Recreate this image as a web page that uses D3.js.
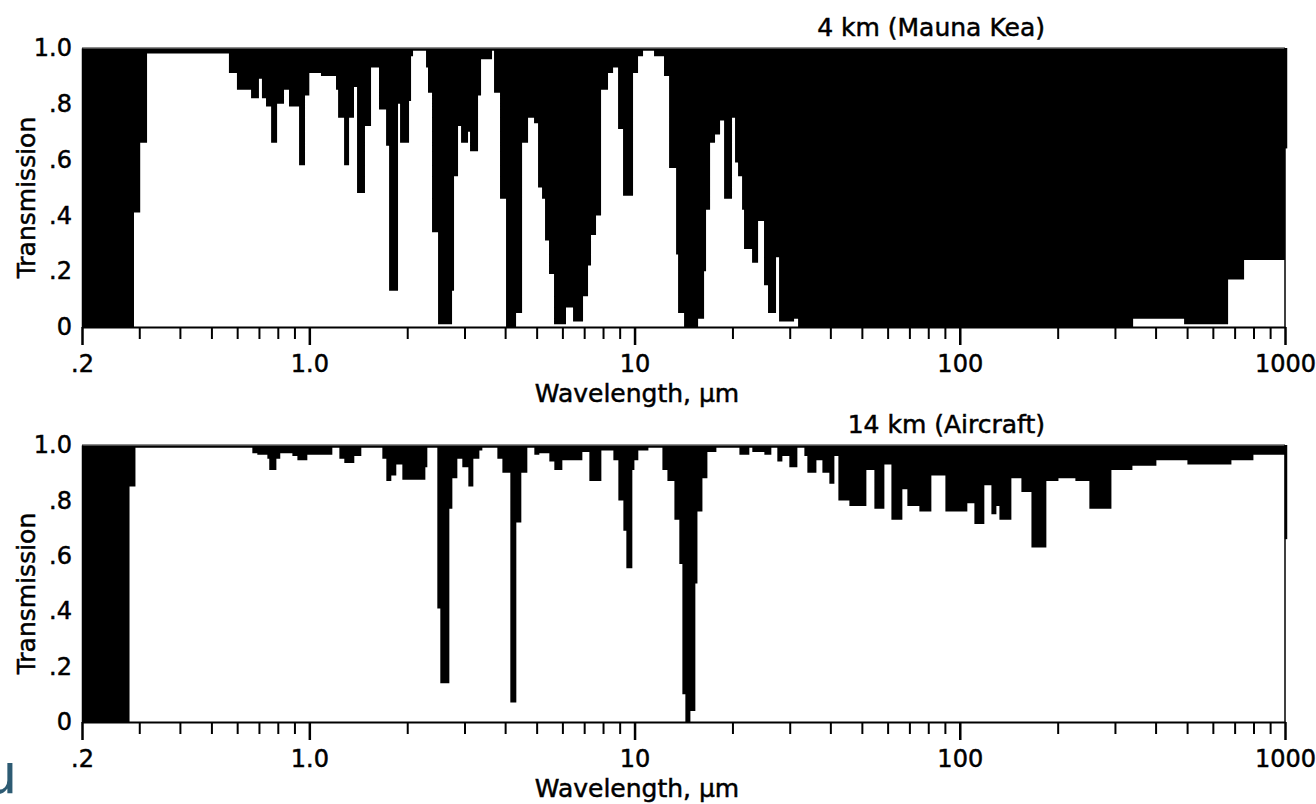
<!DOCTYPE html>
<html>
<head>
<meta charset="utf-8">
<script src="https://cdn.jsdelivr.net/npm/d3@7"></script>
<style>
  body { margin: 0; background: #fff; }
  text { font-family: "DejaVu Sans", sans-serif; fill: #000; stroke: #000; stroke-width: 0.5px; }
</style>
</head>
<body>
<svg width="1316" height="804"></svg>
<script>
// [wavelength in µm where the step starts, transmission]
var mkBands = [
  [0.2, 0], [0.289, 0.41], [0.302, 0.66], [0.317, 0.98], [0.566, 0.91], [0.599, 0.85],
  [0.662, 0.82], [0.700, 0.89], [0.715, 0.82], [0.736, 0.79], [0.763, 0.66], [0.796, 0.80],
  [0.836, 0.85], [0.866, 0.79], [0.930, 0.58], [0.970, 0.83], [1.0, 0.91], [1.086, 0.90],
  [1.208, 0.85], [1.226, 0.75], [1.279, 0.58], [1.325, 0.75], [1.372, 0.86], [1.402, 0.48],
  [1.483, 0.72], [1.548, 0.93], [1.638, 0.78], [1.722, 0.65], [1.759, 0.13], [1.874, 0.80],
  [1.901, 0.66], [2.026, 0.81], [2.055, 0.97], [2.084, 0.99], [2.285, 0.93], [2.317, 0.84],
  [2.384, 0.34], [2.488, 0.01], [2.747, 0.13], [2.786, 0.54], [2.866, 0.72], [2.928, 0.66],
  [3.076, 0.70], [3.120, 0.63], [3.302, 0.83], [3.373, 0.96], [3.646, 0.99], [3.698, 0.84],
  [3.858, 0.46], [4.026, 0], [4.322, 0.05], [4.510, 0.66], [4.705, 0.75], [4.909, 0.73],
  [5.050, 0.50], [5.195, 0.46], [5.306, 0.31], [5.458, 0.19], [5.655, 0.01], [6.155, 0.07],
  [6.470, 0.02], [6.944, 0.11], [7.194, 0.22], [7.348, 0.33], [7.613, 0.40], [7.889, 0.85],
  [8.288, 0.91], [8.590, 0.93], [8.899, 0.71], [9.218, 0.47], [9.894, 0.91], [10.25, 0.97],
  [10.62, 0.99], [11.48, 0.97], [12.32, 0.90], [12.77, 0.57], [13.42, 0.26], [13.61, 0.05],
  [14.20, 0], [15.68, 0.03], [16.36, 0.20], [16.59, 0.42], [17.07, 0.66], [17.68, 0.69],
  [18.32, 0.74], [18.85, 0.46], [19.94, 0.75], [20.37, 0.59], [20.81, 0.54], [21.41, 0.42],
  [21.71, 0.28], [22.98, 0.23], [23.98, 0.38], [25.01, 0.15], [25.73, 0.05], [27.23, 0.25],
  [27.82, 0.02], [30.94, 0.03], [31.83, 0], [341.2, 0.03], [489.5, 0.01], [668.4, 0.17],
  [748.5, 0.24]
];

var aircraftBands = [
  [0.2, 0], [0.280, 0.85], [0.292, 0.99], [0.668, 0.97], [0.692, 0.965], [0.743, 0.95],
  [0.753, 0.91], [0.792, 0.95], [0.814, 0.97], [0.887, 0.96], [0.919, 0.945], [0.986, 0.965],
  [1.177, 0.99], [1.237, 0.95], [1.281, 0.935], [1.375, 0.96], [1.445, 0.99], [1.677, 0.95],
  [1.725, 0.87], [1.787, 0.89], [1.851, 0.93], [1.932, 0.875], [2.274, 0.92], [2.306, 0.99],
  [2.475, 0.41], [2.528, 0.14], [2.695, 0.77], [2.753, 0.88], [2.852, 0.95], [2.954, 0.92],
  [3.083, 0.85], [3.194, 0.95], [3.333, 0.98], [3.404, 0.99], [3.786, 0.95], [3.923, 0.90],
  [4.150, 0.07], [4.330, 0.72], [4.486, 0.90], [4.681, 0.99], [4.919, 0.965], [5.096, 0.97],
  [5.470, 0.94], [5.667, 0.91], [5.998, 0.945], [6.911, 0.975], [7.262, 0.87], [7.906, 0.98],
  [8.608, 0.945], [8.917, 0.80], [9.239, 0.69], [9.436, 0.555], [9.845, 0.91], [9.99, 0.945],
  [10.27, 0.98], [11.03, 0.99], [12.18, 0.91], [12.62, 0.87], [13.26, 0.73], [13.73, 0.57],
  [14.03, 0.10], [14.33, 0], [14.85, 0.04], [15.38, 0.50], [15.61, 0.76], [16.17, 0.88],
  [16.75, 0.975], [17.85, 0.99], [21.01, 0.965], [22.54, 0.99], [23.02, 0.975], [25.07, 0.965],
  [26.34, 0.99], [27.48, 0.94], [28.48, 0.96], [29.92, 0.92], [31.67, 0.99], [33.28, 0.96],
  [33.99, 0.90], [36.24, 0.945], [37.81, 0.90], [39.72, 0.86], [41.16, 0.96], [42.34, 0.80],
  [45.77, 0.78], [51.62, 0.91], [54.63, 0.77], [58.64, 0.93], [61.63, 0.73], [66.60, 0.84],
  [69.00, 0.78], [75.12, 0.76], [81.78, 0.89], [90.32, 0.76], [105.5, 0.79], [110.9, 0.715],
  [119.0, 0.855], [125.1, 0.75], [129.6, 0.78], [132.4, 0.73], [144.1, 0.88], [154.7, 0.83],
  [166.1, 0.63], [184.6, 0.87], [201.1, 0.88], [226.7, 0.87], [250.3, 0.77], [292.6, 0.91],
  [339.5, 0.925], [402.3, 0.945], [501.1, 0.93], [684.3, 0.945], [799.6, 0.965]
];

// transmission where the dark strip on the right border stops
var edgeLevels = [0.64, 0.66];

var majorTicks = [0.2, 1, 10, 100, 1000];
var majorLabels = [".2", "1.0", "10", "100", "1000"];
var minorTicks = [0.3, 0.4, 0.5, 0.6, 0.7, 0.8, 0.9, 2, 3, 4, 5, 6, 7, 8, 9,
  20, 30, 40, 50, 60, 70, 80, 90, 200, 300, 400, 500, 600, 700, 800, 900];
var yTicks = [0, 0.2, 0.4, 0.6, 0.8, 1];
var yLabels = ["0", ".2", ".4", ".6", ".8", "1.0"];

var svg = d3.select("svg");

var x = d3.scaleLog()
          .domain([0.2, 1000])
          .range([82, 1285]);

function drawPanel(bands, title, edge, top, bottom) {
  var y = d3.scaleLinear()
            .domain([0, 1])
            .range([bottom, top]);

  var pts = bands.map(d => ({ w: d[0], t: d[1] }));
  pts.push({ w: 1000, t: bands[bands.length - 1][1] });

  var area = d3.area()
               .curve(d3.curveStepAfter)
               .x(d => x(d.w))
               .y0(y(1))
               .y1(d => y(d.t));

  var g = svg.append("g");

  g.append("path")
    .datum(pts)
    .attr("d", area)
    .attr("fill", "#000");

  // frame: grey top edge, thin right edge with a short heavy part
  g.append("line")
    .attr("x1", x(0.2)).attr("x2", x(1000))
    .attr("y1", y(1)).attr("y2", y(1))
    .attr("stroke", "#666").attr("stroke-width", 1.5);
  g.append("line")
    .attr("x1", x(1000)).attr("x2", x(1000))
    .attr("y1", y(1)).attr("y2", y(0))
    .attr("stroke", "#000").attr("stroke-width", 1.5);
  g.append("line")
    .attr("x1", x(1000) + 1).attr("x2", x(1000) + 1)
    .attr("y1", y(1)).attr("y2", y(edge))
    .attr("stroke", "#000").attr("stroke-width", 2.5);

  g.append("g")
    .attr("transform", "translate(0," + y(0) + ")")
    .call(d3.axisBottom(x).tickValues(minorTicks).tickFormat("").tickSize(12).tickSizeOuter(0))
    .call(a => a.select(".domain").remove())
    .selectAll("line").attr("stroke-width", 2);

  var xa = g.append("g")
    .attr("transform", "translate(0," + y(0) + ")")
    .call(d3.axisBottom(x)
            .tickValues(majorTicks)
            .tickFormat((d, i) => majorLabels[i])
            .tickSize(18)
            .tickSizeOuter(0)
            .tickPadding(10));
  xa.select(".domain").attr("stroke-width", 2);
  xa.selectAll("line").attr("stroke-width", 2.5);
  xa.selectAll("text").attr("font-size", 24).style("font-family", "DejaVu Sans");

  var ya = g.append("g")
    .attr("transform", "translate(" + x(0.2) + ",0)")
    .call(d3.axisLeft(y)
            .tickValues(yTicks)
            .tickFormat((d, i) => yLabels[i])
            .tickSize(0)
            .tickPadding(10));
  ya.select(".domain").attr("stroke-width", 1.5);
  ya.selectAll("text").attr("font-size", 24).style("font-family", "DejaVu Sans");

  g.append("text")
    .attr("transform", "translate(35," + ((top + bottom) / 2 + 10) + ") rotate(-90)")
    .attr("text-anchor", "middle")
    .attr("font-size", 25)
    .text("Transmission");

  g.append("text")
    .attr("x", 637)
    .attr("y", bottom + 75)
    .attr("text-anchor", "middle")
    .attr("font-size", 25)
    .text("Wavelength, \u00b5m");

  g.append("text")
    .attr("x", 1045)
    .attr("y", top - 12)
    .attr("text-anchor", "end")
    .attr("font-size", 25)
    .text(title);
}

drawPanel(mkBands, "4 km (Mauna Kea)", edgeLevels[0], 48, 327);
drawPanel(aircraftBands, "14 km (Aircraft)", edgeLevels[1], 445, 722);

// cut-off logo glyph at the lower left, as in the source image
svg.append("text")
  .attr("x", -18)
  .attr("y", 793)
  .attr("font-size", 56)
  .style("fill", "#2d5b73")
  .style("stroke", "none")
  .text("u");
</script>
</body>
</html>
